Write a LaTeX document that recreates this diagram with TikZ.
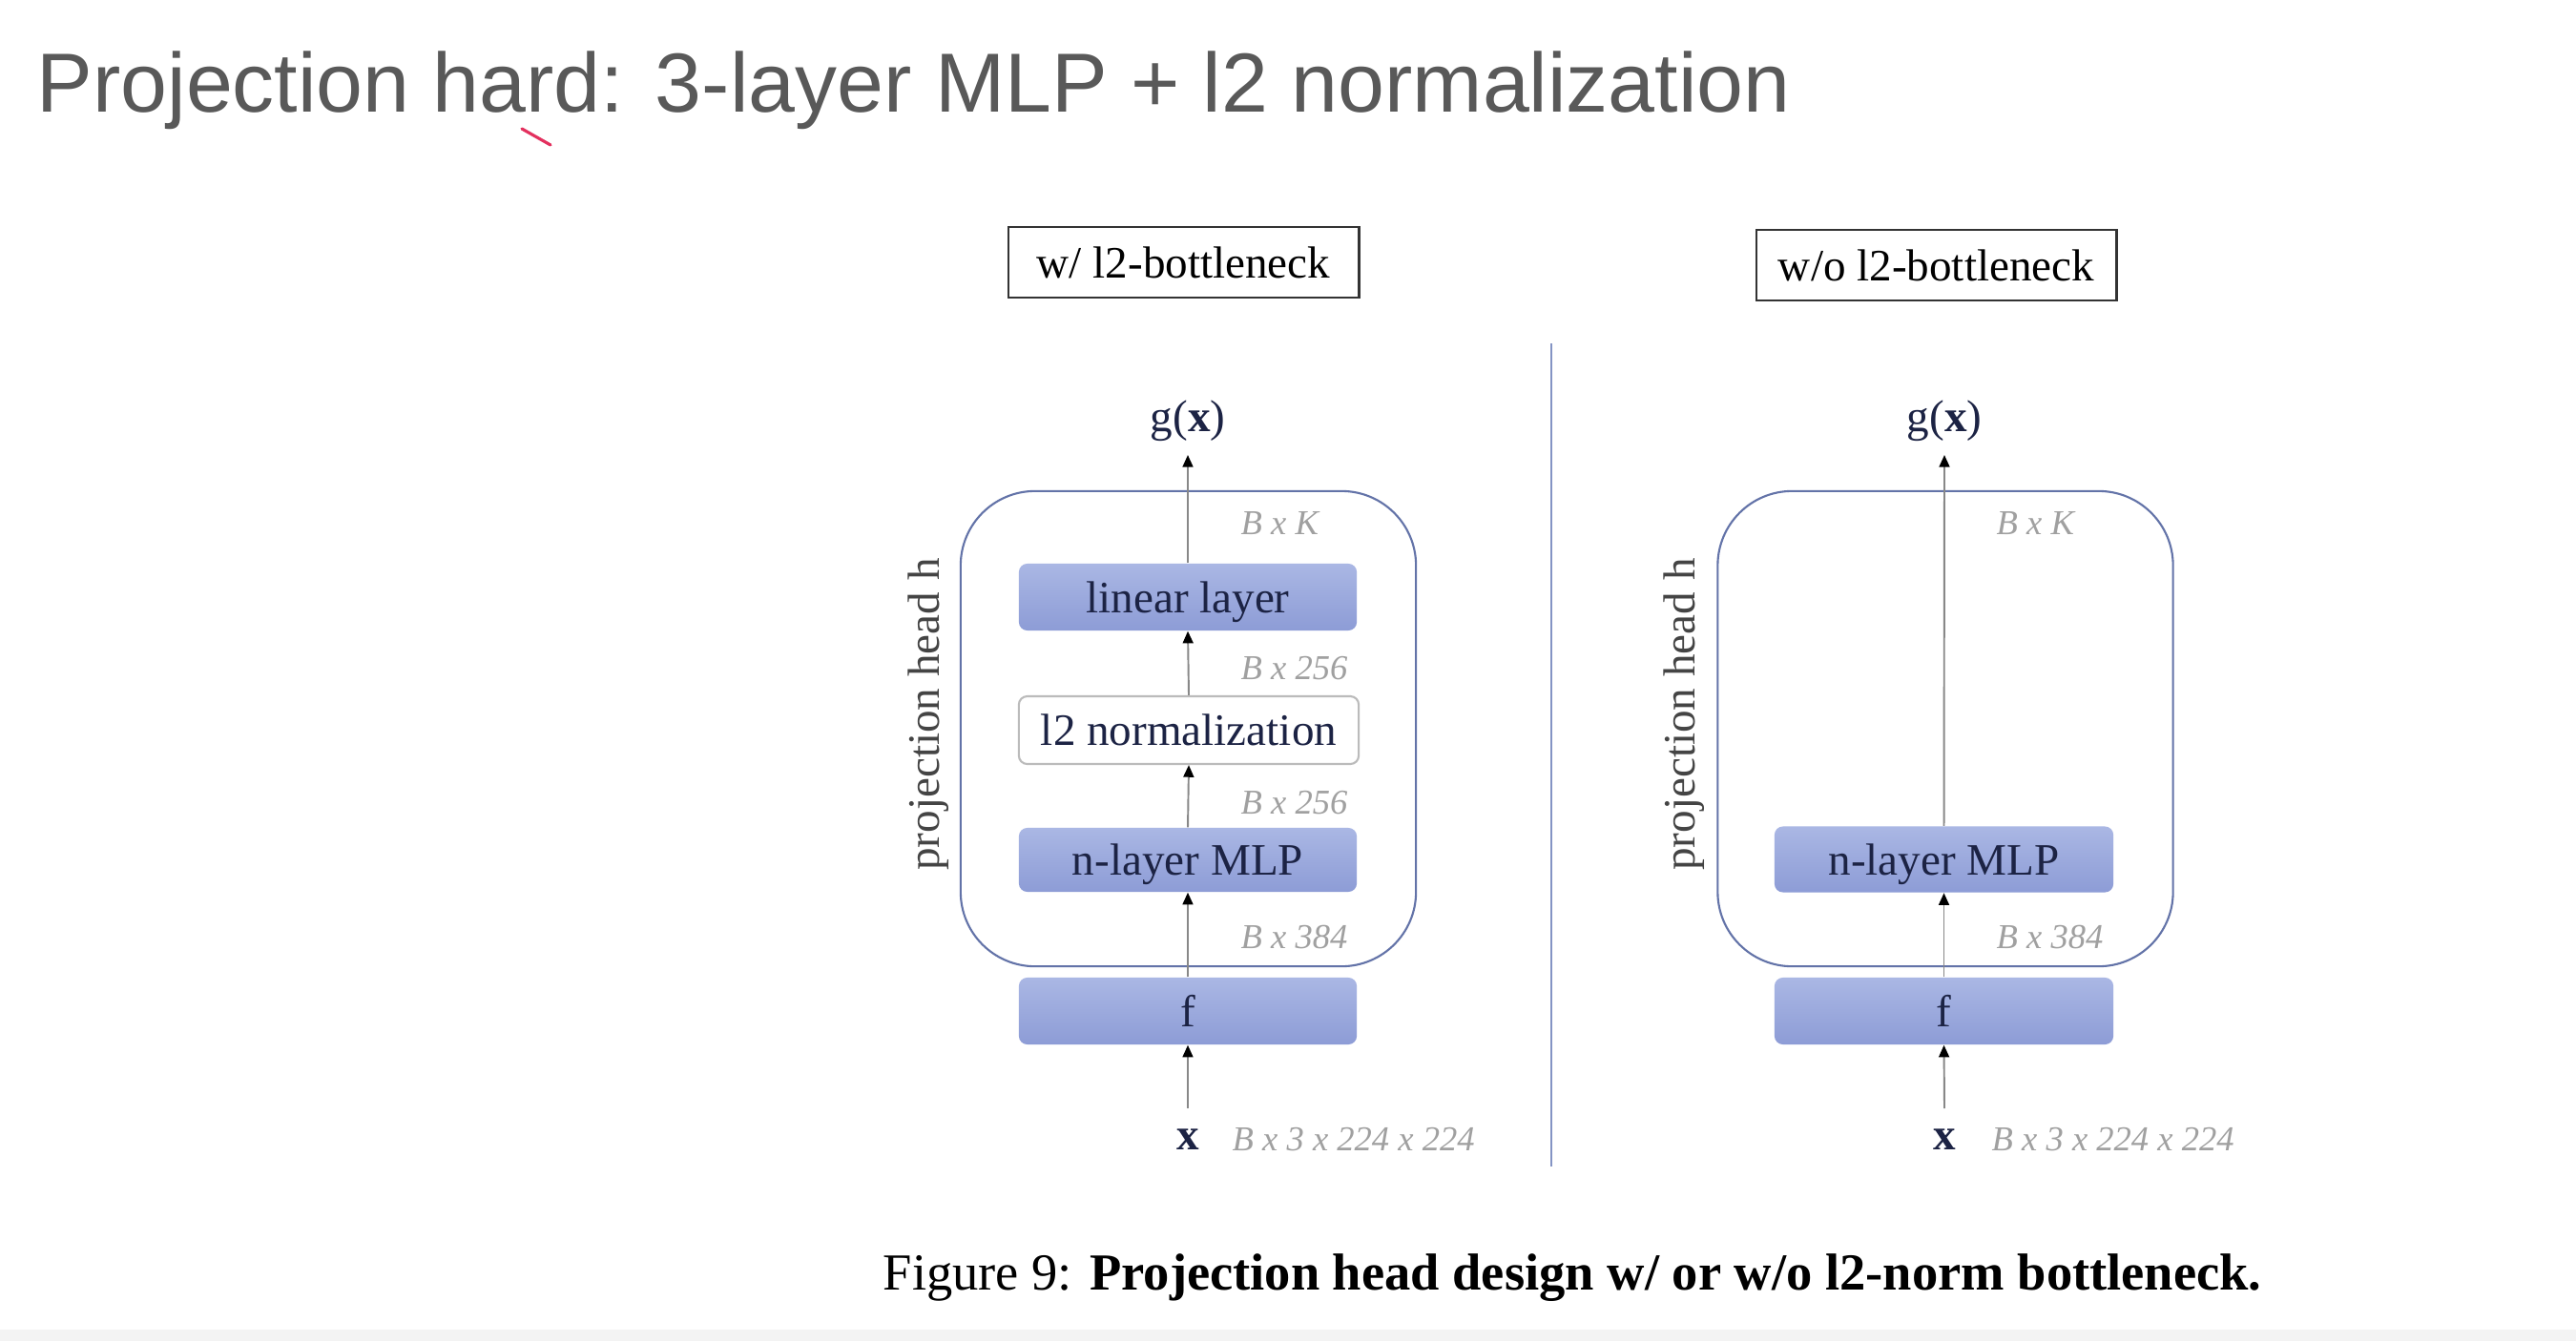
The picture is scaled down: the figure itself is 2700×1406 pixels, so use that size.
\documentclass[tikz,border=0pt]{standalone}
\usepackage{fontspec}
\setmainfont{Liberation Serif}
\newfontfamily\titlefont{Liberation Sans}
\usetikzlibrary{arrows.meta}
\definecolor{titlegray}{HTML}{595959}
\definecolor{boxgray}{HTML}{333333}
\definecolor{blocktop}{HTML}{AAB7E4}
\definecolor{blockbot}{HTML}{8D9CD6}
\definecolor{blocktext}{HTML}{1C2344}
\definecolor{normgray}{HTML}{BBBBBB}
\definecolor{headblue}{HTML}{6373A8}
\definecolor{dimgray}{HTML}{A0A0A0}
\definecolor{arrgray}{HTML}{888888}
\definecolor{divblue}{HTML}{8494C4}
\definecolor{penred}{HTML}{E3305E}
\definecolor{bandgray}{HTML}{F3F3F3}
\definecolor{sidegray}{HTML}{444444}
\tikzset{
  diagfont/.style={font=\fontsize{13.4}{16}\selectfont},
  labelbox/.style={draw=boxgray, line width=0.8pt, fill=white, inner sep=0pt,
    minimum height=0.74cm, diagfont},
  block/.style={rounded corners=2.5pt, top color=blocktop, bottom color=blockbot,
    text=blocktext, minimum width=3.54cm, minimum height=0.70cm, inner sep=0pt,
    text depth=0pt, diagfont},
  normbox/.style={draw=normgray, line width=0.6pt, fill=white, rounded corners=2.5pt,
    text=blocktext, minimum width=3.56cm, minimum height=0.71cm, inner sep=0pt, diagfont},
  headbox/.style={draw=headblue, line width=0.6pt, rounded corners=0.78cm,
    minimum width=4.77cm, minimum height=4.98cm, inner sep=0pt},
  dimlabel/.style={font=\itshape\fontsize{10.4}{12}\selectfont, text=dimgray, inner sep=0pt},
  sidelabel/.style={rotate=90, text=sidegray, inner sep=0pt, diagfont},
  iolabel/.style={text=blocktext, inner sep=0pt, diagfont},
  arr/.style={draw=arrgray, line width=0.55pt, -{Triangle[length=3.6pt,width=3.1pt,color=black]}},
  divider/.style={draw=divblue, line width=0.8pt},
}
\begin{document}
\begin{tikzpicture}[x=0.01cm, y=-0.01cm]
\useasboundingbox (0,0) rectangle (2700,1406);
\fill[white] (0,0) rectangle (2700,1406);
\fill[bandgray] (0,1394) rectangle (2700,1406);

% title
\node[anchor=base west, inner sep=0pt, text=titlegray, font=\titlefont\fontsize{25}{30}\selectfont]
  (title) at (38,117) {Projection hard: 3-layer MLP + l2 normalization};
\coordinate (penA) at (547,135);
\coordinate (penB) at (577,152);
\draw[penred, line width=0.9pt, line cap=round] (penA) -- (penB);

% panel headers
\node[labelbox, minimum width=3.67cm] (hdrL) at (1240.5,275) {w/ l2-bottleneck};
\node[labelbox, minimum width=3.77cm] (hdrR) at (2029.5,278) {w/o l2-bottleneck};

% divider
\coordinate (divT) at (1626,360);
\coordinate (divB) at (1626,1223);
\draw[divider] (divT) -- (divB);

% ---------- left panel ----------
\node[headbox] (headL) at (1245.5,764) {};
\node[sidelabel] (sideL) at (973,749) {projection head h};
\node[block] (linL) at (1245,626) {linear layer};
\node[normbox] (normL) at (1246,765.5) {l2 normalization};
\node[block, minimum height=0.67cm] (mlpL) at (1245,901.5) {n-layer MLP};
\node[block] (fL) at (1245,1060) {f};
\node[iolabel] (gL) at (1245,441) {g(\textbf{x})};
\node[iolabel, anchor=base] (xL) at (1245,1205) {\textbf{x}};
\coordinate (gtipL) at (1245,477);
\coordinate (xtopL) at (1245,1162);

\node[dimlabel, anchor=west] (dKL) at (1300,549) {B x K};
\node[dimlabel, anchor=west] (d256aL) at (1300,701) {B x 256};
\node[dimlabel, anchor=west] (d256bL) at (1300,842) {B x 256};
\node[dimlabel, anchor=west] (d384L) at (1300,983) {B x 384};
\node[dimlabel, anchor=base west] (dinL) at (1291,1206) {B x 3 x 224 x 224};

\draw[arr] (xtopL) -- (fL.south);
\draw[arr] (fL.north) -- (mlpL.south);
\draw[arr] (mlpL.north) -- (normL.south);
\draw[arr] (normL.north) -- (linL.south);
\draw[arr] (linL.north) -- (gtipL);

% ---------- right panel ----------
\node[headbox] (headR) at (2039,764) {};
\node[sidelabel] (sideR) at (1765,749) {projection head h};
\node[block, minimum width=3.55cm, minimum height=0.69cm] (mlpR) at (2037.5,901) {n-layer MLP};
\node[block, minimum width=3.55cm] (fR) at (2037.5,1060) {f};
\node[iolabel] (gR) at (2038,441) {g(\textbf{x})};
\node[iolabel, anchor=base] (xR) at (2038,1205) {\textbf{x}};
\coordinate (gtipR) at (2038,477);
\coordinate (xtopR) at (2038,1162);

\node[dimlabel, anchor=west] (dKR) at (2092,549) {B x K};
\node[dimlabel, anchor=west] (d384R) at (2092,983) {B x 384};
\node[dimlabel, anchor=base west] (dinR) at (2087,1206) {B x 3 x 224 x 224};

\draw[arr] (xtopR) -- (fR.south);
\draw[arr] (fR.north) -- (mlpR.south);
\draw[arr] (mlpR.north) -- (gtipR);

% caption
\node[anchor=base west, inner sep=0pt, font=\fontsize{15.5}{18}\selectfont] (cap) at (925,1352)
  {Figure 9: \textbf{Projection head design w/ or w/o l2-norm bottleneck.}};
\end{tikzpicture}
\end{document}
